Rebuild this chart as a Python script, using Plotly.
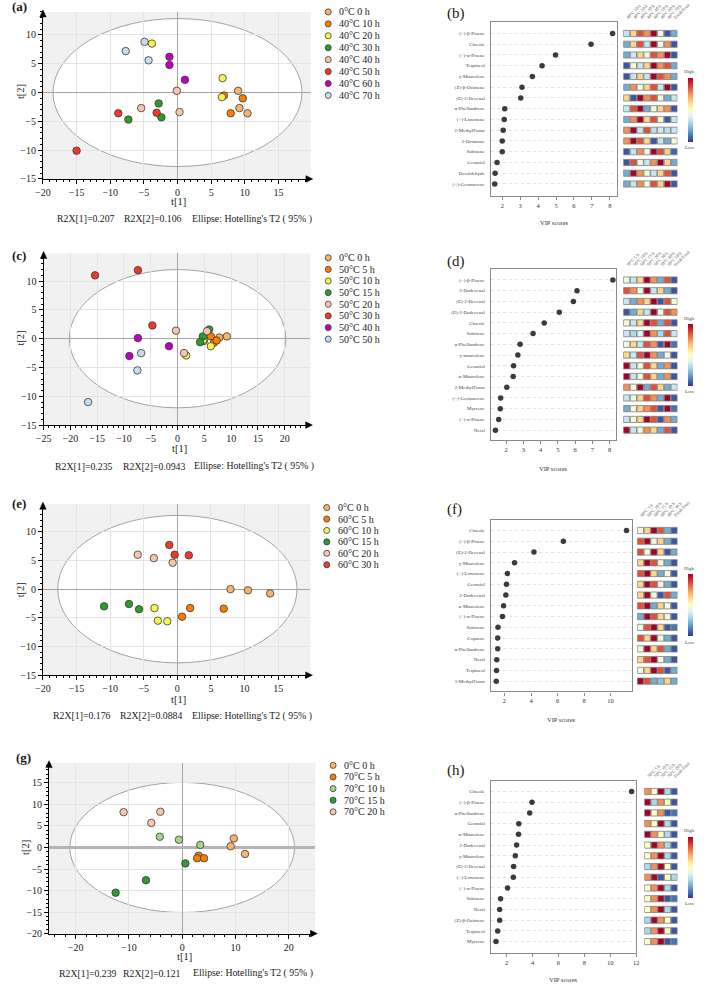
import plotly.graph_objects as go

W, H = 709, 990
SERIF = "Liberation Serif"

# ============================ DATA ============================
# (a) PCA score plot, 40 °C
a_groups = ["0°C 0 h", "40°C 10 h", "40°C 20 h", "40°C 30 h", "40°C 40 h", "40°C 50 h", "40°C 60 h", "40°C 70 h"]
a_t1 = [[9.0, 9.2, 10.4], [6.9, 9.7, 7.9], [-3.8, 6.7, 6.6], [-2.8, -2.4, -7.3],
        [-0.1, -5.4, 0.3], [-8.8, -3.1, -15.0], [-1.2, -1.2, 1.1], [-7.7, -4.9, -4.3]]
a_t2 = [[0.3, -2.7, -3.6], [-0.5, -1.0, -3.6], [8.5, 2.5, -0.8], [-1.9, -4.3, -4.7],
        [0.3, -2.7, -3.4], [-3.6, -3.5, -10.1], [6.2, 4.8, 2.2], [7.2, 8.8, 5.6]]
a_r2x = ["0.207", "0.106"]
a_ellipse = [18.5, 12.85]

# (c) PCA score plot, 50 °C
c_groups = ["0°C 0 h", "50°C 5 h", "50°C 10 h", "50°C 15 h", "50°C 20 h", "50°C 30 h", "50°C 40 h", "50°C 50 h"]
c_t1 = [[7.8, 9.2, 4.9], [6.2, 6.8, 7.3], [1.6, 6.2, 4.8], [4.7, 4.2, 5.9],
        [-0.3, 1.2, 5.5], [-15.4, -7.4, -4.7], [-7.4, -9.0, -1.6], [-6.8, -7.5, -16.7]]
c_t2 = [[0.2, 0.4, -0.4], [0.4, -0.7, -0.3], [-2.9, -1.3, -0.2], [0.4, -0.6, 1.6],
        [1.4, -2.5, 1.3], [11.0, 11.9, 2.3], [0.1, -3.0, -1.3], [-2.5, -5.5, -11.0]]
c_r2x = ["0.235", "0.0943"]
c_ellipse = [20.2, 12.0]

# (e) PCA score plot, 60 °C
e_groups = ["0°C 0 h", "60°C 5 h", "60°C 10 h", "60°C 15 h", "60°C 20 h", "60°C 30 h"]
e_t1 = [[7.9, 10.5, 13.8], [1.9, 0.7, 6.9], [-3.4, -2.9, -1.5], [-10.9, -7.2, -5.7],
        [-5.9, -3.5, -0.7], [-1.2, -0.4, 1.7]]
e_t2 = [[0.0, -0.2, -0.75], [-3.3, -4.8, -3.4], [-3.3, -5.5, -5.6], [-3.0, -2.6, -3.5],
        [6.0, 5.4, 4.6], [7.7, 6.0, 5.9]]
e_r2x = ["0.176", "0.0884"]
e_ellipse = [17.8, 12.85]

# (g) PCA score plot, 70 °C
g_groups = ["0°C 0 h", "70°C 5 h", "70°C 10 h", "70°C 15 h", "70°C 20 h"]
g_t1 = [[9.7, 9.1, 11.8], [3.1, 2.8, 4.1], [-4.2, -0.6, 3.4], [0.6, -6.8, -12.5], [-11.0, -4.1, -5.8]]
g_t2 = [[2.1, 0.3, -1.5], [-1.9, -2.5, -2.5], [2.5, 1.8, 0.6], [-3.7, -7.6, -10.5], [8.2, 8.3, 5.7]]
g_r2x = ["0.239", "0.121"]
g_ellipse = [21.1, 15.1]

# (b) VIP scores, 40 °C
b_names = ["(−)-β-Pinene", "Cineole", "(+)-α-Pinene", "Terpineol", "γ-Muurolene", "(Z)-β-Ocimene",
           "(E)-2-Decenal", "α-Phellandrene", "(+)-Limonene", "2-MethylFuran", "3-Octanone",
           "Sabinene", "Geraniol", "Decaldehyde", "(−)-Germacrene"]
b_vip = [8.15, 6.95, 4.97, 4.22, 3.68, 3.10, 3.03, 2.14, 2.11, 2.05, 2.00, 2.00, 1.71, 1.60, 1.58]
b_cols = ["40°C 10 h", "40°C 20 h", "40°C 30 h", "40°C 40 h", "40°C 50 h", "40°C 60 h", "40°C 70 h", "Fresh Fruit"]
b_heat = [
    [0.35, 0.62, 0.85, 0.75, 1.00, 0.45, 0.05, 0.20],
    [0.20, 0.62, 0.85, 0.35, 1.00, 0.45, 0.75, 0.05],
    [0.20, 0.35, 0.62, 0.45, 0.85, 0.75, 1.00, 0.05],
    [0.05, 0.45, 0.35, 0.62, 1.00, 0.75, 0.85, 0.20],
    [0.05, 0.35, 0.62, 0.35, 1.00, 0.85, 0.75, 0.20],
    [0.20, 0.75, 0.45, 0.62, 0.85, 0.35, 1.00, 0.05],
    [0.62, 0.05, 1.00, 0.75, 0.85, 0.45, 0.20, 0.35],
    [0.35, 0.85, 1.00, 0.20, 0.45, 0.62, 0.75, 0.05],
    [0.20, 0.75, 1.00, 0.62, 0.85, 0.45, 0.05, 0.35],
    [0.75, 1.00, 0.35, 0.85, 0.33, 0.37, 0.33, 0.35],
    [0.75, 1.00, 0.85, 0.62, 0.05, 0.35, 0.20, 0.45],
    [0.05, 0.35, 0.75, 0.45, 1.00, 0.85, 0.62, 0.08],
    [0.05, 0.85, 0.45, 0.35, 0.75, 1.00, 0.62, 0.20],
    [0.20, 1.00, 0.75, 0.45, 0.35, 0.62, 0.85, 0.05],
    [0.20, 0.35, 0.75, 0.45, 0.85, 0.62, 1.00, 0.05],
]

# (d) VIP scores, 50 °C
d_names = ["(−)-β-Pinene", "2-Dodecenal", "(E)-2-Decenal", "(E)-2-Dodecenal", "Cineole", "Sabinene",
           "α-Phellandrene", "γ-muurolene", "Geraniol", "α-Muurolene", "2-MethylFuran",
           "(−)-Germacrene", "Myrcene", "(+)-α-Pinene", "Neral"]
d_vip = [8.19, 6.11, 5.90, 5.08, 4.21, 3.56, 2.81, 2.68, 2.43, 2.41, 2.04, 1.68, 1.66, 1.57, 1.38]
d_cols = ["50°C 5 h", "50°C 10 h", "50°C 15 h", "50°C 20 h", "50°C 30 h", "50°C 40 h", "50°C 50 h", "Fresh Fruit"]
d_heat = [
    [0.45, 0.35, 0.62, 1.00, 0.75, 0.20, 0.85, 0.05],
    [0.85, 0.75, 0.45, 1.00, 0.35, 0.62, 0.20, 0.05],
    [0.35, 0.20, 0.75, 0.62, 1.00, 0.05, 0.85, 0.45],
    [0.05, 0.20, 0.62, 0.35, 1.00, 0.45, 0.85, 0.75],
    [0.45, 0.35, 0.62, 1.00, 0.85, 0.20, 0.85, 0.05],
    [0.35, 0.30, 0.40, 1.00, 0.75, 0.30, 0.85, 0.35],
    [0.45, 0.62, 0.35, 0.85, 0.75, 0.05, 1.00, 0.10],
    [0.62, 0.35, 0.85, 1.00, 0.75, 0.20, 0.45, 0.05],
    [1.00, 0.35, 0.45, 0.85, 0.62, 0.20, 0.75, 0.05],
    [1.00, 0.35, 0.45, 0.85, 0.62, 0.20, 0.75, 0.05],
    [0.75, 0.45, 1.00, 0.20, 0.85, 0.62, 0.20, 0.35],
    [0.35, 0.45, 0.62, 0.85, 0.75, 0.20, 1.00, 0.05],
    [0.20, 0.45, 0.62, 0.75, 0.85, 0.05, 1.00, 0.10],
    [0.35, 0.45, 0.62, 1.00, 0.85, 0.05, 0.75, 0.20],
    [1.00, 0.35, 0.45, 0.75, 0.62, 0.20, 0.85, 0.05],
]

# (f) VIP scores, 60 °C
f_names = ["Cineole", "(−)-β-Pinene", "(E)-2-Decenal", "γ-Muurolene", "(+)-Limonene", "Geraniol",
           "2-Dodecenal", "α-Muurolene", "(+)-α-Pinene", "Sabinene", "Copaene", "α-Phellandrene",
           "Neral", "Terpineol", "3-MethylFuran"]
f_vip = [11.20, 6.44, 4.22, 2.76, 2.22, 2.15, 2.10, 1.93, 1.85, 1.51, 1.49, 1.49, 1.42, 1.40, 1.38]
f_cols = ["60°C 5 h", "60°C 10 h", "60°C 15 h", "60°C 20 h", "60°C 30 h", "Fresh Fruit"]
f_heat = [
    [0.45, 0.62, 1.00, 0.85, 0.20, 0.05],
    [0.85, 1.00, 0.45, 0.62, 0.20, 0.05],
    [0.85, 0.45, 1.00, 0.62, 0.05, 0.20],
    [0.62, 1.00, 0.85, 0.45, 0.20, 0.05],
    [0.85, 1.00, 0.62, 0.20, 0.45, 0.05],
    [0.62, 1.00, 0.85, 0.45, 0.20, 0.05],
    [0.62, 1.00, 0.45, 0.05, 0.85, 0.20],
    [0.85, 1.00, 0.20, 0.62, 0.45, 0.05],
    [0.20, 1.00, 0.85, 0.62, 0.45, 0.05],
    [0.45, 0.85, 1.00, 0.62, 0.05, 0.10],
    [0.85, 0.62, 1.00, 0.45, 0.20, 0.05],
    [0.45, 1.00, 0.62, 0.85, 0.20, 0.05],
    [0.62, 0.85, 1.00, 0.45, 0.20, 0.05],
    [0.45, 0.62, 1.00, 0.85, 0.05, 0.20],
    [1.00, 0.85, 0.20, 0.25, 0.62, 0.20],
]

# (h) VIP scores, 70 °C
h_names = ["Cineole", "(−)-β-Pinene", "α-Phellandrene", "Geranial", "α-Muurolene", "2-Dodecenal",
           "γ-Muurolene", "(E)-2-Decenal", "(+)-Limonene", "(+)-α-Pinene", "Sabinene", "Neral",
           "(Z)-β-Ocimene", "Terpineol", "Myrcene"]
h_vip = [11.65, 3.96, 3.78, 2.94, 2.92, 2.77, 2.67, 2.54, 2.52, 2.07, 1.53, 1.46, 1.46, 1.31, 1.18]
h_cols = ["70°C 5 h", "70°C 10 h", "70°C 15 h", "70°C 20 h", "Fresh Fruit"]
h_heat = [
    [0.75, 0.50, 1.00, 0.30, 0.05],
    [1.00, 0.30, 0.75, 0.50, 0.05],
    [1.00, 0.50, 0.75, 0.05, 0.10],
    [0.75, 0.50, 1.00, 0.30, 0.05],
    [1.00, 0.75, 0.50, 0.30, 0.05],
    [0.50, 1.00, 0.75, 0.30, 0.05],
    [0.50, 0.75, 1.00, 0.30, 0.05],
    [0.30, 0.75, 1.00, 0.50, 0.05],
    [0.75, 1.00, 0.05, 0.50, 0.30],
    [0.50, 0.75, 1.00, 0.30, 0.05],
    [0.50, 0.75, 1.00, 0.05, 0.10],
    [0.50, 0.75, 1.00, 0.30, 0.05],
    [0.30, 1.00, 0.75, 0.50, 0.05],
    [0.30, 0.75, 1.00, 0.50, 0.05],
    [0.50, 0.75, 1.00, 0.05, 0.10],
]

# ============================ STYLE ============================
C_FRESH = "#F8B46E"
C_ORANGE = "#FA7D00"
C_YELLOW = "#F6F64C"
C_GREEN = "#2F9A2F"
C_SALMON = "#F8C4AE"
C_RED = "#EC3A2B"
C_MAG = "#C000C0"
C_LBLUE = "#C9DCEE"
C_LGREEN = "#A6D58A"

a_colors = [C_FRESH, C_ORANGE, C_YELLOW, C_GREEN, C_SALMON, C_RED, C_MAG, C_LBLUE]
c_colors = [C_FRESH, C_ORANGE, C_YELLOW, C_GREEN, C_SALMON, C_RED, C_MAG, C_LBLUE]
e_colors = [C_FRESH, C_ORANGE, C_YELLOW, C_GREEN, C_SALMON, C_RED]
g_colors = [C_FRESH, C_ORANGE, C_LGREEN, C_GREEN, C_SALMON]

layout = dict(width=W, height=H, margin=dict(l=0, r=0, t=0, b=0),
              paper_bgcolor="white", plot_bgcolor="white", showlegend=False,
              font=dict(family=SERIF, color="#1a1a1a", size=10))
shapes, annots, traces = [], [], []
counter = [0]


def X(p):
    return p / W


def Y(p):
    return 1 - p / H


def axes(x0, x1, y0, y1):
    counter[0] += 1
    n = counter[0]
    s = "" if n == 1 else str(n)
    layout["xaxis" + s] = dict(domain=[X(x0), X(x1)], anchor="y" + s)
    layout["yaxis" + s] = dict(domain=[Y(y1), Y(y0)], anchor="x" + s)
    return "x" + s, "y" + s, layout["xaxis" + s], layout["yaxis" + s]


def text(x, y, s, size=10, xanchor="center", yanchor="middle", angle=0, color="#1a1a1a", bold=False):
    annots.append(dict(x=X(x), y=Y(y), xref="paper", yref="paper",
                       text=f"<b>{s}</b>" if bold else s, showarrow=False,
                       xanchor=xanchor, yanchor=yanchor, textangle=angle,
                       font=dict(family=SERIF, size=size, color=color)))


def tri(points, color="black"):
    p = " L ".join(f"{X(px_)},{Y(py_)}" for px_, py_ in points)
    shapes.append(dict(type="path", xref="paper", yref="paper", path=f"M {p} Z",
                       fillcolor=color, line=dict(color=color, width=0.5)))


def pca(groups, t1, t2, r2x, ell, colors, cfg):
    x0, x1, y0, y1 = cfg["box"]
    xr, yr, xa, ya = axes(x0, x1, y0, y1)
    common = dict(showline=True, linecolor="black", linewidth=1, ticks="outside", ticklen=4,
                  tickcolor="black", tickfont=dict(size=10, color="#222"), showgrid=True,
                  gridcolor="#e4e4e4", gridwidth=1, zeroline=True, zerolinecolor="#a4a4a4",
                  zerolinewidth=1)
    xa.update(common, range=cfg["xrange"], dtick=cfg["xdtick"], tick0=0,
              minor=dict(dtick=cfg["xminor"], ticks="outside", ticklen=2, tickcolor="black"))
    ya.update(common, range=cfg["yrange"], dtick=cfg["ydtick"], tick0=0,
              minor=dict(dtick=1, ticks="outside", ticklen=2, tickcolor="black"))
    if cfg.get("thickzero"):
        ya.update(zerolinewidth=2.5, zerolinecolor="#b4b4b4")
    shapes.append(dict(type="rect", xref=xr + " domain", yref=yr + " domain", x0=0, x1=1, y0=0, y1=1,
                       fillcolor="#f1f1f1", line=dict(width=0), layer="below"))
    shapes.append(dict(type="circle", xref=xr, yref=yr, x0=-ell[0], x1=ell[0], y0=-ell[1], y1=ell[1],
                       fillcolor="white", line=dict(color="#a3a3a3", width=1), layer="below"))
    for g, xs, ys, c in zip(groups, t1, t2, colors):
        traces.append(go.Scatter(x=xs, y=ys, mode="markers", name=g, xaxis=xr, yaxis=yr,
                                 marker=dict(size=7.5, color=c, line=dict(color="#3a3a3a", width=0.8))))
    # axis arrows
    tri([(x1 + 2, y1), (x1 - 5, y1 - 3.3), (x1 - 5, y1 + 3.3)])
    tri([(x0, y0 - 2), (x0 - 3.3, y0 + 5), (x0 + 3.3, y0 + 5)])
    # legend
    lx, ly0, dy = cfg["legend"]
    r = 3.1
    for i, (g, c) in enumerate(zip(groups, colors)):
        yy = ly0 + i * dy
        shapes.append(dict(type="circle", xref="paper", yref="paper", x0=X(lx - r), x1=X(lx + r),
                           y0=Y(yy + r), y1=Y(yy - r), fillcolor=c,
                           line=dict(color="#3a3a3a", width=0.8)))
        text(lx + 9.5, yy, g, size=10, xanchor="left")
    # titles
    text(*cfg["t1"], "t[1]", size=10.5)
    text(*cfg["t2"], "t[2]", size=10.5, angle=-90)
    ry, rxs = cfg["r2x"]
    text(rxs[0], ry, f"R2X[1]={r2x[0]}", size=9.8, xanchor="left")
    text(rxs[1], ry, f"R2X[2]={r2x[1]}", size=9.8, xanchor="left")
    text(rxs[2], ry, "Ellipse: Hotelling's T2 ( 95% )", size=9.8, xanchor="left")
    text(cfg["letter"][0], cfg["letter"][1], cfg["label"], size=13, xanchor="left", bold=True)


def vip(names, scores, heat, hcols, cfg):
    x0, x1, y0, y1 = cfg["box"]
    ytop, ybot = cfg["yrange"]
    xr, yr, xa, ya = axes(x0, x1, y0, y1)
    rows = list(range(len(names)))
    traces.append(go.Scatter(x=scores, y=rows, mode="markers", xaxis=xr, yaxis=yr,
                             marker=dict(size=5.5, color="#3b3b3b")))
    xa.update(range=cfg["xrange"], dtick=cfg["xdtick"], tick0=0, showline=True, mirror=True,
              linecolor="#8a8a8a", linewidth=1.2, ticks="outside", ticklen=3, tickcolor="#8a8a8a",
              tickfont=dict(size=6.5, color="#333"), showgrid=False, zeroline=False)
    ya.update(range=[ybot, ytop], tickmode="array", tickvals=rows, ticktext=names, showline=True,
              mirror=True, linecolor="#8a8a8a", linewidth=1.2, ticks="outside", ticklen=4,
              tickcolor="rgba(0,0,0,0)", tickfont=dict(size=5, color="#444"), showgrid=True,
              gridcolor="#e4e4e4", griddash="dot", gridwidth=0.8, zeroline=False)
    # heat map of relative contents
    hx0, hx1 = cfg["heat"]
    hxr, hyr, hxa, hya = axes(hx0, hx1, y0, y1)
    ncol = len(hcols)
    xs = [j for i in rows for j in range(ncol)]
    ys = [i for i in rows for j in range(ncol)]
    zs = [heat[i][j] for i in rows for j in range(ncol)]
    cb_top, cb_bot = cfg["cbar"]
    traces.append(go.Scatter(
        x=xs, y=ys, mode="markers", xaxis=hxr, yaxis=hyr,
        marker=dict(symbol="square", size=6.2, color=zs, colorscale="RdYlBu_r", cmin=0, cmax=1,
                    line=dict(color="#7d7d7d", width=0.8), showscale=True,
                    colorbar=dict(x=X(700.5), xanchor="left", y=Y(cb_top), yanchor="top",
                                  len=(cb_bot - cb_top) / H, lenmode="fraction", thickness=4.5,
                                  thicknessmode="pixels", xpad=0, ypad=0, outlinewidth=0,
                                  showticklabels=False, ticks=""))))
    hxa.update(range=[-0.5, ncol - 0.5], side="top", tickmode="array", tickvals=list(range(ncol)),
               ticktext=hcols, tickangle=-45, tickfont=dict(size=4.5, color="#555"), ticks="",
               showgrid=False, zeroline=False, showline=False)
    hya.update(range=[ybot, ytop], showticklabels=False, showgrid=False, zeroline=False,
               showline=False, ticks="")
    text(702.5, cb_top - 6, "High", size=5, color="#444")
    text(702.5, cb_bot + 6, "Low", size=5, color="#444")
    text(*cfg["viplabel"], "VIP scores", size=6.5, color="#333")
    text(cfg["letter"][0], cfg["letter"][1], cfg["label"], size=15, xanchor="left")


pca(a_groups, a_t1, a_t2, a_r2x, a_ellipse, a_colors,
    dict(box=(36, 312, 12, 180), xrange=[-20, 19.8], yrange=[-15, 14], xdtick=5, ydtick=5, xminor=1,
         legend=(330, 12, 12), t1=(175.7, 203), t2=(13, 92), r2x=(220, [48, 117.3, 187.7]),
         letter=(2, 7), label="(a)"))
pca(c_groups, c_t1, c_t2, c_r2x, c_ellipse, c_colors,
    dict(box=(36.7, 311.7, 255, 427.7), xrange=[-25, 24.8], yrange=[-15, 14.8], xdtick=5, ydtick=5, xminor=1,
         legend=(330, 259.3, 11.7), t1=(176.7, 451.7), t2=(13, 340), r2x=(469.3, [46.7, 116, 190]),
         letter=(2, 257), label="(c)"))
pca(e_groups, e_t1, e_t2, e_r2x, e_ellipse, e_colors,
    dict(box=(36, 311.7, 507.3, 679.3), xrange=[-20, 19.8], yrange=[-15, 14.8], xdtick=5, ydtick=5, xminor=1,
         legend=(328.5, 510.7, 11.5), t1=(176, 703.3), t2=(13, 593.3), r2x=(720, [44.3, 113.3, 187.7]),
         letter=(2, 507), label="(e)"))
pca(g_groups, g_t1, g_t2, g_r2x, g_ellipse, g_colors,
    dict(box=(42.3, 316.7, 767.3, 939.3), xrange=[-25, 25], yrange=[-20, 19.7], xdtick=10, ydtick=5, xminor=2,
         legend=(335, 770, 11.7), t1=(181.7, 962.7), t2=(18, 852.7), r2x=(979.3, [50, 116, 189]),
         letter=(6, 762), label="(g)", thickzero=True))

vip(b_names, b_vip, b_heat, b_cols,
    dict(box=(497.7, 628, 22, 197), xrange=[1.37, 8.42], xdtick=1, yrange=(-1.08, 15.1),
         heat=(634, 690), cbar=(78, 142), viplabel=(563, 224), letter=(450, 13.3), label="(b)"))
vip(d_names, d_vip, d_heat, d_cols,
    dict(box=(497.7, 626.7, 270.7, 443), xrange=[1.12, 8.38], xdtick=1, yrange=(-1.02, 14.95),
         heat=(634, 690), cbar=(326, 388), viplabel=(562, 471.7), letter=(450, 262.7), label="(d)"))
vip(f_names, f_vip, f_heat, f_cols,
    dict(box=(497.7, 642.7, 522.7, 695.7), xrange=[0.98, 11.59], xdtick=2, yrange=(-1.02, 14.96),
         heat=(648.3, 690), cbar=(578, 640.7), viplabel=(570, 724.3), letter=(450, 512.7), label="(f)"))
vip(h_names, h_vip, h_heat, h_cols,
    dict(box=(497.7, 647.3, 785.3, 959), xrange=[0.79, 12.0], xdtick=2, yrange=(-1.02, 15.08),
         heat=(655.7, 690), cbar=(841.7, 903), viplabel=(572.5, 985.5), letter=(450, 775), label="(h)"))

layout["shapes"] = shapes
layout["annotations"] = annots
fig = go.Figure(data=traces, layout=layout)
fig.write_html("out.html", config={"displayModeBar": False},
               post_script="document.body.style.margin='0px';")
